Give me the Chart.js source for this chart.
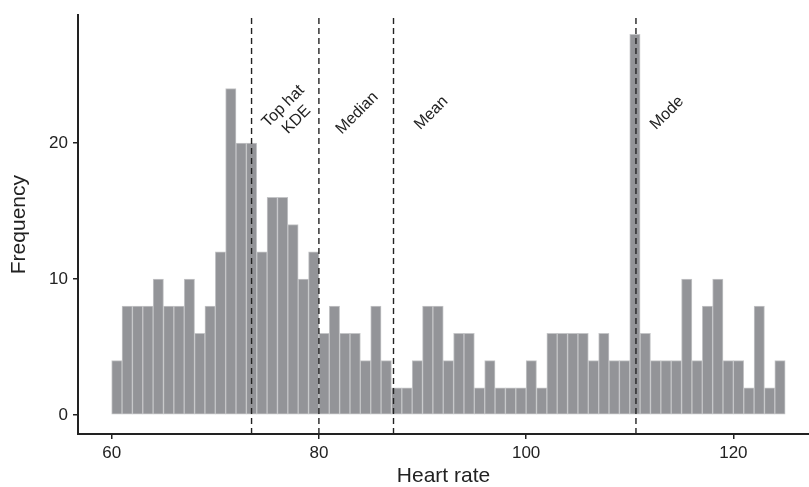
<!DOCTYPE html>
<html>
<head>
<meta charset="utf-8">
<script src="https://cdn.jsdelivr.net/npm/chart.js@4.4.1/dist/chart.umd.min.js"></script>
<style>
  html, body { margin: 0; padding: 0; background: #fff; }
</style>
</head>
<body>
<canvas id="histograma" width="809" height="487"></canvas>
<script>
// bins de 1 bpm, desde 60 hasta 125
const binStart = 60;
const counts = [
  4, 8, 8, 8, 10, 8, 8, 10, 6, 8,      // 60-69
  12, 24, 20, 20, 12, 16, 16, 14, 10, 12, // 70-79
  6, 8, 6, 6, 4, 8, 4, 2, 2, 4,        // 80-89
  8, 8, 4, 6, 6, 2, 4, 2, 2, 2,        // 90-99
  4, 2, 6, 6, 6, 6, 4, 6, 4, 4,        // 100-109
  28, 6, 4, 4, 4, 10, 4, 8, 10, 4,     // 110-119
  4, 2, 8, 2, 4                        // 120-124
];

// lineas verticales (estimadores)
const markerNames = [['Top hat', 'KDE'], ['Median'], ['Mean'], ['Mode']];
const markerValues = [73.5, 80.0, 87.2, 110.6];
const labelX = [77.2, 83.7, 90.85, 113.6];
const labelY = 22.2;

const xTicks = [60, 80, 100, 120];
const yTicks = [0, 10, 20];
const xRange = [56.75, 127.3];
const yRange = [-1.4, 29.4];

const FONT = "'Liberation Sans', Arial, sans-serif";
Chart.defaults.font.family = FONT;
Chart.defaults.color = '#222';

// Texto rotado junto a cada linea
const markerText = {
  id: 'markerText',
  afterDatasetsDraw(chart) {
    const { ctx, scales: { x, y } } = chart;
    ctx.save();
    ctx.font = '16px ' + FONT;
    ctx.fillStyle = '#222';
    ctx.textAlign = 'center';
    ctx.textBaseline = 'middle';
    markerNames.forEach((lines, i) => {
      ctx.save();
      ctx.translate(x.getPixelForValue(labelX[i]), y.getPixelForValue(labelY));
      ctx.rotate(-Math.PI / 4);
      lines.forEach((t, j) => ctx.fillText(t, 0, (j - (lines.length - 1) / 2) * 19));
      ctx.restore();
    });
    ctx.restore();
  }
};

const barData = counts.map((c, i) => ({ x: binStart + i + 0.5, y: c }));

new Chart(document.getElementById('histograma'), {
  type: 'bar',
  data: {
    datasets: [
      {
        type: 'bar',
        data: barData,
        backgroundColor: '#939498',
        borderColor: '#c4c5c7',
        borderWidth: 1,
        borderSkipped: false,
        barPercentage: 1,
        categoryPercentage: 1,
        order: 2
      },
      ...markerValues.map(v => ({
        type: 'line',
        data: [{ x: v, y: yRange[0] }, { x: v, y: yRange[1] }],
        borderColor: '#222',
        borderWidth: 1.4,
        borderDash: [6, 4],
        pointRadius: 0,
        order: 1
      }))
    ]
  },
  options: {
    responsive: false,
    animation: false,
    devicePixelRatio: 1,
    layout: { padding: { top: 14, left: 0, right: 0, bottom: 0 } },
    plugins: {
      legend: { display: false },
      tooltip: { enabled: false }
    },
    scales: {
      x: {
        type: 'linear',
        min: xRange[0],
        max: xRange[1],
        offset: false,
        afterBuildTicks: s => { s.ticks = xTicks.map(v => ({ value: v })); },
        afterFit: s => { s.height = 53; },
        grid: { offset: false, drawOnChartArea: false, tickLength: 5, color: '#222', lineWidth: 1.5 },
        border: { color: '#222', width: 2 },
        ticks: { font: { size: 17 }, padding: 4, color: '#222', maxRotation: 0 },
        title: { display: true, text: 'Heart rate', font: { size: 21, lineHeight: 1 }, padding: 0, color: '#222' }
      },
      y: {
        min: yRange[0],
        max: yRange[1],
        afterBuildTicks: s => { s.ticks = yTicks.map(v => ({ value: v })); },
        afterFit: s => { s.width = 78; },
        grid: { drawOnChartArea: false, tickLength: 5, color: '#222', lineWidth: 1.5 },
        border: { color: '#222', width: 2 },
        ticks: { font: { size: 17 }, padding: 5, color: '#222' },
        title: { display: true, text: 'Frequency', font: { size: 21, lineHeight: 1 }, padding: { top: 9, bottom: 0 }, color: '#222' }
      }
    }
  },
  plugins: [markerText]
});
</script>
</body>
</html>
